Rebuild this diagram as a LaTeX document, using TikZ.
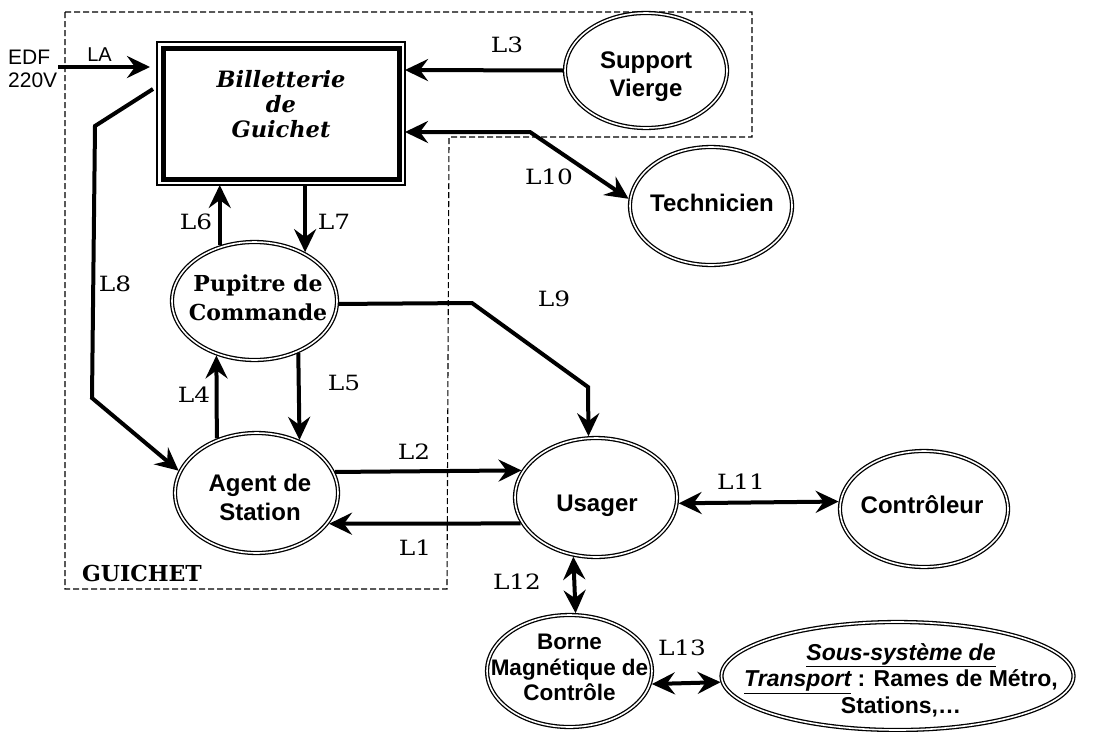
\documentclass[tikz,border=0pt]{standalone}
\usepackage{fontspec}
\setmainfont{DejaVu Serif}
\newfontfamily\sansf{Liberation Sans}
\newfontfamily\lblf{DejaVu Serif}[FakeStretch=1.18]
\usetikzlibrary{arrows.meta,shapes.geometric,calc}

\tikzset{
  head/.style={Stealth[length=23pt,width=22pt,inset=8pt]},
  flow/.style={line width=4pt, -{Stealth[length=23pt,width=22pt,inset=8pt]}},
  flow2/.style={line width=4pt, {Stealth[length=23pt,width=22pt,inset=8pt]}-{Stealth[length=23pt,width=22pt,inset=8pt]}},
  actor/.style={ellipse, draw, double, line width=1.3pt, double distance=1.6pt, inner sep=0pt, outer sep=2pt},
  sanstxt/.style={font=\sansf\bfseries\fontsize{24}{28}\selectfont, align=center, inner sep=0pt},
  lbl/.style={font=\lblf\fontsize{21}{23}\selectfont, inner sep=0pt},
  frame/.style={line width=1.1pt, dash pattern=on 6pt off 3pt}
}

\begin{document}
\begin{tikzpicture}[x=1pt,y=-1pt]
\useasboundingbox (0,0) rectangle (1099,731);
\fill[white] (0,0) rectangle (1099,731);

% dashed frame of the counter (GUICHET)
\draw[frame] (65,12) -- (752,12) -- (752,137) -- (449,137) -- (447,589) -- (65,589) -- cycle;
\node[font=\bfseries\fontsize{22}{24}\selectfont, inner sep=0pt] (guichet) at (142,573) {GUICHET};

% ticket machine
\node[draw, line width=1.2pt, minimum width=248pt, minimum height=143pt, inner sep=0pt, outer sep=0pt] (bill) at (281,113.5) {};
\draw[line width=5pt] ($(bill.north west)+(6,6)$) rectangle ($(bill.south east)+(-6,-6)$);
\node[font=\bfseries\itshape\fontsize{22.5}{25}\selectfont, align=center, inner sep=0pt] (billT) at (281,104) {Billetterie\\de\\Guichet};

% actors
\node[actor, minimum width=162pt, minimum height=115pt] (support) at (646,70.5) {};
\node[sanstxt] (supportT) at (646,76.4) {Support\\Vierge};

\node[actor, minimum width=162pt, minimum height=118pt] (tech) at (711,206) {};
\node[sanstxt] (techT) at (712,203) {Technicien};

\node[actor, minimum width=165pt, minimum height=118pt] (pupitre) at (254.5,301) {};
\node[font=\bfseries\fontsize{22}{29}\selectfont, align=center, inner sep=0pt] (pupitreT) at (258,297.5) {Pupitre de\\Commande};

\node[actor, minimum width=163pt, minimum height=120pt] (agent) at (256.5,493) {};
\node[sanstxt, font=\sansf\bfseries\fontsize{24}{28.5}\selectfont] (agentT) at (260,497.5) {Agent de\\Station};

\node[actor, minimum width=162pt, minimum height=119pt] (usager) at (596,497.5) {};
\node[sanstxt] (usagerT) at (597,505.4) {Usager};

\node[actor, minimum width=168pt, minimum height=116pt] (ctrl) at (924,509) {};
\node[sanstxt] (ctrlT) at (922,504.5) {Contrôleur};

\node[actor, minimum width=165pt, minimum height=112pt] (borne) at (569.5,671) {};
\node[sanstxt, font=\sansf\bfseries\fontsize{22.5}{25.5}\selectfont] (borneT) at (569.5,667.5) {Borne\\Magnétique de\\Contrôle};

\node[actor, minimum width=352pt, minimum height=108pt] (sous) at (897.5,676) {};
\node[sanstxt, font=\sansf\bfseries\fontsize{23}{26.5}\selectfont] (sousT) at (901,680) {\underline{\itshape Sous-système de}\\\underline{\itshape Transport} : Rames de Métro,\\Stations,…};

% power supply
\node[font=\sansf\fontsize{21}{22.5}\selectfont, align=left, inner sep=0pt, anchor=west] (edf) at (8,68.75) {EDF\\220V};
\coordinate (la0) at (58,67);
\draw[flow, shorten >=7pt] (la0) -- (la0 -| bill.west);
\node[font=\sansf\fontsize{20}{22}\selectfont, inner sep=0pt] (lA) at (99.5,55) {LA};

% flows between the counter elements
\draw[flow] ([shift={(-4,47)}]bill.north west) -- (95,126) -- (92,398) -- (agent.164);
\node[lbl] (l8) at (115,284) {L8};

\draw[flow] (pupitre.122.8) -- (pupitre.122.8 |- bill.south);
\node[lbl] (l6) at (196,222) {L6};
\draw[flow] (bill.south -| pupitre.44.1) -- (pupitre.44.1);
\node[lbl] (l7) at (334,222) {L7};

\draw[flow] (agent.126.1) -- (pupitre.235.4);
\node[lbl] (l4) at (194,395) {L4};
\draw[flow] (pupitre.310.9) -- (agent.51.2);
\node[lbl] (l5) at (344,383) {L5};

\draw[flow] (agent.15.4) -- (usager.160.8);
\node[lbl] (l2) at (414,452) {L2};
\draw[flow] (usager.199.2) -- (agent.337);
\node[lbl] (l1) at (415,548) {L1};

\draw[flow] (pupitre.358.6) -- (472,303) -- (588,387) -- (usager.97.7);
\node[lbl] (l9) at (554,299) {L9};

% flows with the outside actors
\draw[flow] (support.west) -- ([shift={(0,-43.5)}]bill.east);
\node[lbl] (l3) at (507,45) {L3};

\draw[flow2] ([shift={(0,18.5)}]bill.east) -- (530,132) -- (tech.175.8);
\node[lbl] (l10) at (549,177) {L10};

\draw[flow2] (usager.356.8) -- (ctrl.175.2);
\node[lbl] (l11) at (741,482) {L11};

\draw[flow2] (usager.249.9) -- (borne.84.4);
\node[lbl] (l12) at (517,582) {L12};

\draw[flow2] (borne.351.3) -- (sous.182.3);
\node[lbl] (l13) at (682,648) {L13};
\end{tikzpicture}
\end{document}
